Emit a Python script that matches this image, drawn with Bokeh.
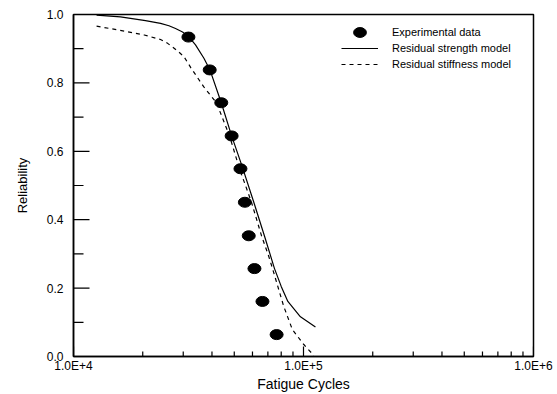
import math
from bokeh.plotting import figure
from bokeh.models import (FixedTicker, Legend, LegendItem, PrintfTickFormatter,
                          CustomJSTickFormatter, ColumnDataSource)
from bokeh.embed import file_html
from bokeh.resources import INLINE

# Experimental data (fatigue cycles, reliability)
exp_N = [31600, 39100, 43900, 48700, 53200, 55600, 57800, 61200, 66300, 76400]
exp_R = [0.934, 0.838, 0.742, 0.645, 0.549, 0.451, 0.353, 0.257, 0.161, 0.064]

# Residual strength model curve
strength_N = [12600, 16000, 20560, 23900, 26000, 27770, 29800, 31700, 33920, 36900, 39200, 43900,
              48700, 54100, 60800, 67600, 74800, 80000, 85500, 97000, 112700]
strength_R = [0.998, 0.993, 0.982, 0.974, 0.967, 0.959, 0.949, 0.935, 0.911, 0.872, 0.838, 0.742,
              0.645, 0.556, 0.451, 0.353, 0.257, 0.205, 0.161, 0.116, 0.086]

# Residual stiffness model curve
stiffness_N = [12600, 17100, 20300, 23900, 25500, 26940, 28500, 30200, 32400, 36800, 41840,
               47680, 52690, 59410, 65690, 70600, 73340, 82000, 89400, 100300, 110900]
stiffness_R = [0.966, 0.950, 0.940, 0.927, 0.917, 0.905, 0.892, 0.877, 0.844, 0.789, 0.742,
               0.645, 0.549, 0.451, 0.353, 0.293, 0.257, 0.147, 0.079, 0.035, 0.003]

x_major = [1e4, 1e5, 1e6]
x_minor = [2e4, 3e4, 4e4, 5e4, 6e4, 7e4, 8e4, 9e4,
           2e5, 3e5, 4e5, 5e5, 6e5, 7e5, 8e5, 9e5]
y_major = [0.0, 0.2, 0.4, 0.6, 0.8, 1.0]
y_minor = [0.1, 0.3, 0.5, 0.7, 0.9]

FONT = "Liberation Sans"

p = figure(width=557, height=394, x_axis_type="log", x_range=(1e4, 1e6), y_range=(0, 1),
           output_backend="svg", toolbar_location=None,
           min_border_left=73, min_border_right=24, min_border_top=14, min_border_bottom=37)

p.xgrid.visible = False
p.ygrid.visible = False
p.outline_line_color = "black"
p.outline_line_width = 1.5
p.outline_line_alpha = 1.0
p.background_fill_color = "white"
p.border_fill_color = "white"

src_exp = ColumnDataSource(dict(N=exp_N, R=exp_R))
src_s = ColumnDataSource(dict(N=strength_N, R=strength_R))
src_d = ColumnDataSource(dict(N=stiffness_N, R=stiffness_R))

# inward tick marks drawn as short rays from the axes
p.ray(x=[x_major[0]] * len(y_major), y=y_major, length=16, length_units="screen",
      angle=0, line_color="black", line_width=1.2)
p.ray(x=[x_major[0]] * len(y_minor), y=y_minor, length=10, length_units="screen",
      angle=0, line_color="black", line_width=1.2)
p.ray(x=x_major, y=[y_major[0]] * len(x_major), length=10, length_units="screen",
      angle=math.pi / 2, line_color="black", line_width=1.2)
p.ray(x=x_minor, y=[y_major[0]] * len(x_minor), length=5, length_units="screen",
      angle=math.pi / 2, line_color="black", line_width=1.2)

r_s = p.line("N", "R", source=src_s, line_color="black", line_width=1.2)
r_d = p.line("N", "R", source=src_d, line_color="black", line_width=1.2, line_dash="4 4")
r_e = p.ellipse("N", "R", source=src_exp, width=13, height=10,
                width_units="screen", height_units="screen",
                fill_color="black", line_color="black")

# X axis
xa = p.xaxis[0]
xa.ticker = FixedTicker(ticks=x_major, minor_ticks=x_minor)
xa.formatter = CustomJSTickFormatter(code='return "1.0E+" + Math.round(Math.log10(tick));')
xa.major_tick_line_color = None
xa.minor_tick_line_color = None
xa.major_tick_in = 0
xa.minor_tick_in = 0
xa.major_tick_out = 0
xa.minor_tick_out = 0
xa.axis_line_width = 1.5
xa.major_label_text_font = FONT
xa.major_label_text_font_size = "12px"
xa.major_label_text_color = "black"
xa.major_label_standoff = 2
xa.axis_label = "Fatigue Cycles"
xa.axis_label_text_font = FONT
xa.axis_label_text_font_size = "14px"
xa.axis_label_text_font_style = "normal"
xa.axis_label_text_color = "black"
xa.axis_label_standoff = 0

# Y axis
ya = p.yaxis[0]
ya.ticker = FixedTicker(ticks=y_major, minor_ticks=y_minor)
ya.formatter = PrintfTickFormatter(format="%.1f")
ya.major_tick_line_color = None
ya.minor_tick_line_color = None
ya.major_tick_in = 0
ya.minor_tick_in = 0
ya.major_tick_out = 0
ya.minor_tick_out = 0
ya.axis_line_width = 1.5
ya.major_label_text_font = FONT
ya.major_label_text_font_size = "12px"
ya.major_label_text_color = "black"
ya.major_label_standoff = 10
ya.axis_label = "Reliability"
ya.axis_label_text_font = FONT
ya.axis_label_text_font_size = "13px"
ya.axis_label_text_font_style = "normal"
ya.axis_label_text_color = "black"
ya.axis_label_standoff = 14

legend = Legend(items=[
    LegendItem(label="Experimental data", renderers=[r_e]),
    LegendItem(label="Residual strength model", renderers=[r_s]),
    LegendItem(label="Residual stiffness model", renderers=[r_d]),
], location=(263, 279), glyph_width=37, glyph_height=16, label_height=16,
    spacing=0, padding=5, margin=0, label_standoff=14,
    label_text_font=FONT, label_text_font_size="11px", label_text_color="black",
    border_line_alpha=0, background_fill_alpha=0)
p.add_layout(legend)

open("out.html", "w").write(file_html(p, INLINE))
